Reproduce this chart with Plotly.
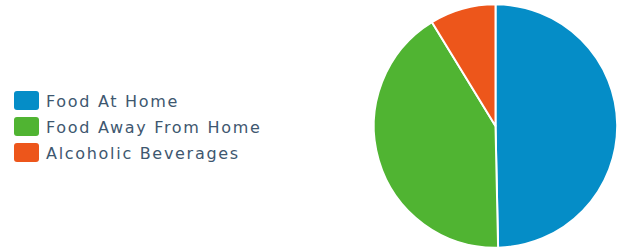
import plotly.graph_objects as go

categories = ["Food At Home", "Food Away From Home", "Alcoholic Beverages"]
values = [49.66, 41.6, 8.74]
colors = ["#058DC7", "#50B432", "#ED561B"]

W, H = 619, 251
cx, cy, r = 495.5, 126.0, 121.7

fig = go.Figure(go.Pie(
    labels=categories,
    values=values,
    sort=False,
    direction="clockwise",
    rotation=0,
    textinfo="none",
    marker=dict(colors=colors, line=dict(color="white", width=2)),
    domain=dict(x=[(cx - r) / W, (cx + r) / W], y=[(H - cy - r) / H, (H - cy + r) / H]),
    showlegend=False,
))

# custom legend built from categories/colors
row0, step = 100.5, 26.0
shapes, annotations = [], []
for i, (name, col) in enumerate(zip(categories, colors)):
    yc = row0 + i * step
    w2, h2, rr = 12.5, 9.5, 3
    path = (f"M{-w2+rr},{-h2} L{w2-rr},{-h2} Q{w2},{-h2} {w2},{-h2+rr} "
            f"L{w2},{h2-rr} Q{w2},{h2} {w2-rr},{h2} L{-w2+rr},{h2} "
            f"Q{-w2},{h2} {-w2},{h2-rr} L{-w2},{-h2+rr} Q{-w2},{-h2} {-w2+rr},{-h2} Z")
    shapes.append(dict(
        type="path", xref="paper", yref="paper",
        xsizemode="pixel", ysizemode="pixel",
        xanchor=26.5 / W, yanchor=1 - yc / H,
        path=path, fillcolor=col, line=dict(width=0),
    ))
    annotations.append(dict(
        text=name, xref="paper", yref="paper",
        x=44 / W, y=1 - (yc + 0.5) / H, xanchor="left", yanchor="middle",
        showarrow=False,
        font=dict(family="DejaVu Sans", size=16, color="#3E576F"),
    ))

fig.update_layout(
    width=W, height=H,
    margin=dict(l=0, r=0, t=0, b=0),
    paper_bgcolor="white", plot_bgcolor="white",
    shapes=shapes, annotations=annotations,
)

post = """
document.body.style.margin='0';
document.querySelectorAll('.annotation-text').forEach(function(e){
  var b = e.getBBox();
  e.setAttribute('text-anchor','start');
  e.setAttribute('x', b.x);
  e.style.letterSpacing='1.7px';
});
"""
fig.write_html("out.html", post_script=post, config={"displayModeBar": False})
